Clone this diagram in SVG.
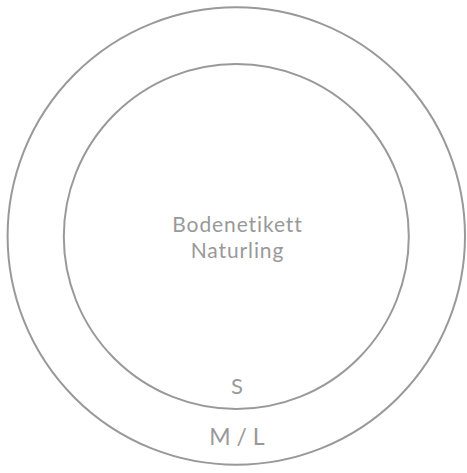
<svg xmlns="http://www.w3.org/2000/svg" width="467" height="473" viewBox="0 0 467 473">
<style>
.ring{fill:none;stroke:#999;stroke-width:2}
.t{font-family:Lato,"Liberation Sans",sans-serif;fill:#999;text-anchor:middle}
</style>
<rect width="467" height="473" fill="#fff"/>
<g id="outer"><circle class="ring" cx="236.3" cy="236" r="228.7"/><text class="t" x="237" y="445" font-size="23" letter-spacing="0">M / L</text></g>
<g id="inner"><circle class="ring" cx="236.3" cy="236.5" r="172.5"/><text class="t" x="237" y="394" font-size="22">S</text>
<text class="t" x="237.5" y="232" font-size="21" letter-spacing="0.9">Bodenetikett</text>
<text class="t" x="237.5" y="258" font-size="21" letter-spacing="0.9">Naturling</text></g>
</svg>
